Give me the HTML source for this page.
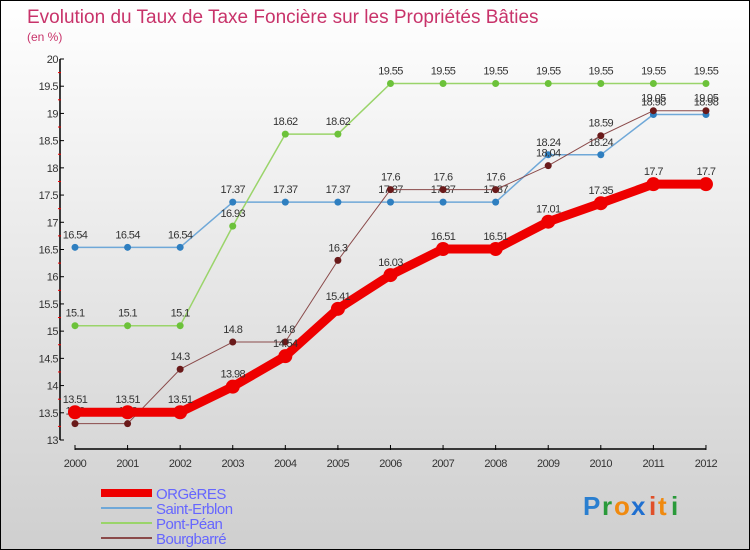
<!DOCTYPE html>
<html><head><meta charset="utf-8"><style>
body{margin:0}
#wrap{width:748px;height:548px;border:1px solid #000;background:linear-gradient(#ffffff,#cfcfcf);position:relative;overflow:hidden;font-family:"Liberation Sans",sans-serif}
svg text{font-family:"Liberation Sans",sans-serif}
</style></head><body>
<div id="wrap">
<svg id="chart" width="748" height="548">
<text x="26" y="22" font-size="19" fill="#c8336a">Evolution du Taux de Taxe Foncière sur les Propriétés Bâties</text>
<text x="26" y="40" font-size="12" fill="#c8336a">(en %)</text>
<g id="axes"></g><g id="series"></g><g id="legend"></g>
<g font-size="26" font-weight="bold">
<text x="582" y="514" fill="#2a7fd0">P</text><text x="601" y="514" fill="#2a9a3a">r</text><text x="613" y="514" fill="#f08a10">o</text><text x="630" y="514" fill="#1f6fd0">x</text><text x="648" y="514" fill="#e0502a">i</text><text x="657" y="514" fill="#f08a10">t</text><text x="670" y="514" fill="#2a9a3a">i</text>
</g>
</svg>
</div>
<script>
const years=["2000","2001","2002","2003","2004","2005","2006","2007","2008","2009","2010","2011","2012"];
const yTicks=[13,13.5,14,14.5,15,15.5,16,16.5,17,17.5,18,18.5,19,19.5,20];
const orgeres=[13.51,13.51,13.51,13.98,14.54,15.41,16.03,16.51,16.51,17.01,17.35,17.7,17.7];
const saintErblon=[16.54,16.54,16.54,17.37,17.37,17.37,17.37,17.37,17.37,18.24,18.24,18.98,18.98];
const pontPean=[15.1,15.1,15.1,16.93,18.62,18.62,19.55,19.55,19.55,19.55,19.55,19.55,19.55];
const bourgbarre=[13.3,13.3,14.3,14.8,14.8,16.3,17.6,17.6,17.6,18.04,18.59,19.05,19.05];
const NS="http://www.w3.org/2000/svg";
function X(i){return 74+i*52.58;}
function Y(v){return 439-(v-13)*54.43;}
function mk(t,a,p){const e=document.createElementNS(NS,t);for(const k in a)e.setAttribute(k,a[k]);if(p)p.appendChild(e);return e;}
const ax=document.getElementById('axes');
mk('line',{x1:59,y1:Y(20),x2:59,y2:Y(13),stroke:'#000','stroke-width':1.5},ax);
mk('line',{x1:X(0),y1:448,x2:X(12),y2:448,stroke:'#000','stroke-width':1.5},ax);
yTicks.forEach((v,i)=>{
 mk('line',{x1:59,y1:Y(v),x2:63,y2:Y(v),stroke:'#000'},ax);
 if(i<yTicks.length-1) mk('line',{x1:57,y1:Y(v+0.25),x2:60,y2:Y(v+0.25),stroke:'#e00'},ax);
 const t=mk('text',{x:57,y:Y(v)+4,'font-size':11,'text-anchor':'end',fill:'#333','letter-spacing':'-0.5'},ax);
 
 
 t.textContent=String(v);
});
years.forEach((y,i)=>{
 mk('line',{x1:X(i),y1:444,x2:X(i),y2:449,stroke:'#000'},ax);
 const t=mk('text',{x:X(i),y:466,'font-size':11,'text-anchor':'middle',fill:'#333','letter-spacing':'-0.5'},ax);
 
 
 t.textContent=y;
});
const sg=document.getElementById('series');
const defs=[
 {d:saintErblon,line:'#6fa8d8',dot:'#2f7fc0',w:1.5,r:3.5,n:'saint-erblon'},
 {d:pontPean,line:'#9ad46a',dot:'#6cc23a',w:1.5,r:3.5,n:'pont-pean'},
 {d:bourgbarre,line:'#8a4a4a',dot:'#6a1a1a',w:1,r:3.5,n:'bourgbarre'},
 {d:orgeres,line:'#ee0000',dot:'#ee0000',w:9,r:7,n:'orgeres'}];
defs.forEach(s=>{
 const g=mk('g',{},sg);
 
 
 mk('polyline',{points:s.d.map((v,i)=>X(i)+','+Y(v)).join(' '),fill:'none',stroke:s.line,'stroke-width':s.w,'stroke-linejoin':'round'},g);
 s.d.forEach((v,i)=>{
  const c=mk('circle',{cx:X(i),cy:Y(v),r:s.r,fill:s.dot},g);
  
  
  const t=mk('text',{x:X(i),y:Y(v)-9,'font-size':11,'text-anchor':'middle',fill:'#333','letter-spacing':'-0.6'},g);
  
  
  t.textContent=String(v);
 });
});
const lg=document.getElementById('legend');
const leg=[['ORGèRES','#ee0000',8],['Saint-Erblon','#6fa8d8',2],['Pont-Péan','#9ad46a',2],['Bourgbarré','#8a4a4a',2]];
leg.forEach((l,i)=>{
 const y=492+i*15;
 const g=mk('g',{},lg);
 
 
 mk('line',{x1:100,y1:y,x2:151,y2:y,stroke:l[1],'stroke-width':l[2]},g);
 const t=mk('text',{x:155,y:y+6,'font-size':15,fill:'#6666ff','letter-spacing':'-0.5'},g);
 t.textContent=l[0];
});
</script>
</body></html>
